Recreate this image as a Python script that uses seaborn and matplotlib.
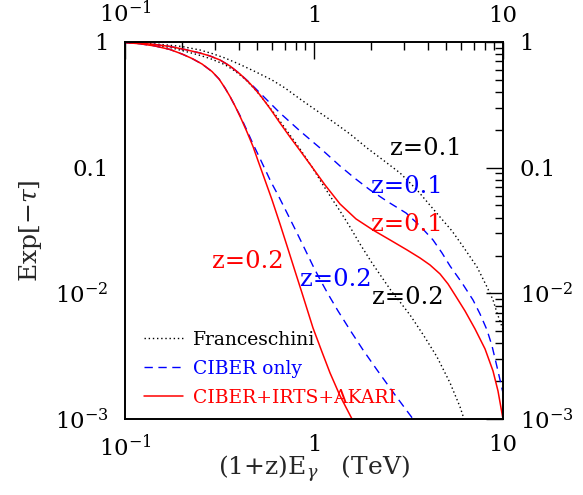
import matplotlib
matplotlib.use("Agg")
import matplotlib.pyplot as plt
import seaborn as sns
import pandas as pd
from matplotlib.ticker import FixedLocator, FixedFormatter, LogLocator, NullFormatter

# ---------------- data ----------------
# Franceschini, z=0.1
fr01_x = [0.1, 0.1356, 0.1627, 0.2002, 0.2493, 0.2886, 0.3381, 0.4060, 0.4873, 0.5995, 0.7023, 0.8432, 1.0123,
          1.2605, 1.550, 1.907, 2.318, 2.851, 3.507, 4.011, 4.642, 5.372, 6.145, 7.285, 8.229, 8.855, 9.296, 9.641, 10.0]
fr01_y = [0.9909, 0.9730, 0.9500, 0.9209, 0.8637, 0.8100, 0.7458, 0.6622, 0.5823, 0.4984, 0.4305, 0.3520, 0.2904,
          0.2322, 0.1854, 0.1435, 0.1151, 0.0908, 0.0665, 0.0524, 0.0405, 0.03136, 0.02360, 0.01622, 0.01124, 0.00886,
          0.00698, 0.00603, 0.00512]
# Franceschini, z=0.2
fr02_x = [0.1, 0.1356, 0.1730, 0.2077, 0.2433, 0.2817, 0.3381, 0.3820, 0.4313, 0.4933, 0.5641, 0.6370, 0.720,
          0.8432, 0.9759, 1.116, 1.245, 1.373, 1.550, 1.751, 2.027, 2.376, 2.586, 2.851, 3.221, 3.819, 4.475, 5.244,
          5.923, 6.219]
fr02_y = [0.9909, 0.9553, 0.9044, 0.8434, 0.7911, 0.7393, 0.6598, 0.5878, 0.5079, 0.4113, 0.3212, 0.2531, 0.1959,
          0.1408, 0.1013, 0.0729, 0.0564, 0.0452, 0.03375, 0.02472, 0.01745, 0.01232, 0.01026, 0.00854, 0.00673,
          0.00458, 0.00312, 0.00194, 0.00125, 0.001]
# CIBER only, z=0.1
cb01_x = [0.1, 0.1201, 0.1441, 0.1730, 0.2077, 0.2493, 0.2817, 0.3182, 0.3594, 0.4060, 0.4585, 0.5179, 0.5850,
          0.6608, 0.7464, 0.8432, 0.9524, 1.0758, 1.2150, 1.373, 1.648, 1.979, 2.464, 3.068, 3.638, 4.262, 4.755,
          5.244, 6.069, 6.938, 7.556, 8.229, 8.746, 9.296, 9.641, 10.0]
cb01_y = [0.9909, 0.9783, 0.9553, 0.9209, 0.8716, 0.8176, 0.7738, 0.7192, 0.6442, 0.5564, 0.4719, 0.3928, 0.3271,
          0.2723, 0.2310, 0.1959, 0.1676, 0.1435, 0.1217, 0.1031, 0.0821, 0.0665, 0.0534, 0.0436, 0.0344, 0.0266,
          0.02097, 0.01652, 0.01210, 0.00886, 0.00686, 0.00511, 0.00382, 0.00260, 0.00205, 0.00161]
# CIBER only, z=0.2
cb02_x = [0.1, 0.1201, 0.1441, 0.1730, 0.2002, 0.2262, 0.2555, 0.2886, 0.3144, 0.3381, 0.3594, 0.3820, 0.4110,
          0.442, 0.4756, 0.5117, 0.550, 0.5923, 0.645, 0.720, 0.813, 0.8964, 0.988, 1.0758, 1.186, 1.340, 1.550,
          1.816, 2.154, 2.683, 3.341]
cb02_y = [0.9909, 0.9676, 0.9294, 0.8716, 0.8025, 0.7393, 0.6683, 0.5823, 0.5079, 0.4305, 0.3685, 0.3097, 0.2508,
          0.1976, 0.1543, 0.1228, 0.0976, 0.0769, 0.0606, 0.0436, 0.0302, 0.02235, 0.01652, 0.01290, 0.00989,
          0.00724, 0.00511, 0.00355, 0.00246, 0.001555, 0.001]
# CIBER+IRTS+AKARI, z=0.1
ci01_x = [0.1, 0.1201, 0.1441, 0.1730, 0.2077, 0.2493, 0.2817, 0.3182, 0.3594, 0.4060, 0.4585, 0.5179, 0.5850,
          0.6608, 0.7464, 0.8432, 0.9759, 1.1433, 1.373, 1.668, 2.052, 2.525, 3.105, 3.638, 4.109, 4.642, 5.117,
          5.572, 6.295, 7.110, 8.035, 8.855, 9.409, 10.0]
ci01_y = [0.9909, 0.9783, 0.9553, 0.9209, 0.8716, 0.8176, 0.7738, 0.7192, 0.6442, 0.5564, 0.4676, 0.3789, 0.2958,
          0.2268, 0.1754, 0.1370, 0.1013, 0.0729, 0.0514, 0.0391, 0.0319, 0.0266, 0.02215, 0.01912, 0.01682, 0.01427,
          0.01188, 0.00971, 0.00724, 0.00521, 0.00361, 0.00241, 0.00167, 0.001]
# CIBER+IRTS+AKARI, z=0.2
ci02_x = [0.1, 0.1201, 0.1441, 0.1730, 0.2002, 0.2262, 0.2555, 0.2886, 0.3144, 0.3381, 0.3594, 0.3820, 0.4110,
          0.442, 0.4756, 0.505, 0.550, 0.600, 0.661, 0.720, 0.793, 0.864, 0.988, 1.102, 1.215, 1.373, 1.589]
ci02_y = [0.9909, 0.9676, 0.9294, 0.8716, 0.8025, 0.7393, 0.6683, 0.5823, 0.5079, 0.4305, 0.3685, 0.3097, 0.2462,
          0.1923, 0.1475, 0.1141, 0.0798, 0.0553, 0.0356, 0.02383, 0.01507, 0.01007, 0.0053, 0.00342, 0.00233,
          0.00153, 0.001]

legend_labels = ["Franceschini", "CIBER only", "CIBER+IRTS+AKARI"]
x_ticks = [0.1, 1, 10]
x_ticklabels = ["$10^{-1}$", "1", "10"]
y_ticks = [1e-3, 1e-2, 0.1, 1]
y_ticklabels = ["$10^{-3}$", "$10^{-2}$", "0.1", "1"]

# ---------------- style ----------------
sns.set_style("white")
plt.rcParams["font.family"] = ["DejaVu Serif", "DejaVu Sans"]
plt.rcParams["mathtext.fontset"] = "dejavuserif"

fig = plt.figure(figsize=(5.83, 4.95), dpi=100)
ax = fig.add_axes([125 / 583, 1 - 419 / 495, 378 / 583, 377 / 495])

DOT = (0, (1, 2))
DASH = (0, (6, 4))

def draw(xs, ys, color, ls, lw, label=None):
    df = pd.DataFrame({"x": xs, "y": ys})
    sns.lineplot(data=df, x="x", y="y", ax=ax, color=color, linestyle=ls,
                 linewidth=lw, sort=False, estimator=None, label=label, legend=False)

draw(fr01_x, fr01_y, "black", DOT, 1.0, legend_labels[0])
draw(fr02_x, fr02_y, "black", DOT, 1.0)
draw(cb01_x, cb01_y, "#0000ff", DASH, 1.0, legend_labels[1])
draw(cb02_x, cb02_y, "#0000ff", DASH, 1.0)
draw(ci01_x, ci01_y, "#ff0000", "-", 1.1, legend_labels[2])
draw(ci02_x, ci02_y, "#ff0000", "-", 1.1)

ax.set_xscale("log")
ax.set_yscale("log")
ax.set_xlim(0.1, 10)
ax.set_ylim(1e-3, 1)

ax.xaxis.set_major_locator(FixedLocator(x_ticks))
ax.xaxis.set_major_formatter(FixedFormatter(x_ticklabels))
ax.yaxis.set_major_locator(FixedLocator(y_ticks))
ax.yaxis.set_major_formatter(FixedFormatter(y_ticklabels))
ax.xaxis.set_minor_locator(LogLocator(base=10, subs=range(2, 10), numticks=20))
ax.yaxis.set_minor_locator(LogLocator(base=10, subs=range(2, 10), numticks=20))
ax.xaxis.set_minor_formatter(NullFormatter())
ax.yaxis.set_minor_formatter(NullFormatter())

for s in ax.spines.values():
    s.set_visible(True)
    s.set_color("black")
    s.set_linewidth(1.4)

ax.tick_params(which="both", direction="in", top=True, right=True,
               labeltop=True, labelright=True, colors="black")
ax.tick_params(which="major", length=12.5, width=1.0, labelsize=16.5)
ax.tick_params(which="minor", length=5.5, width=1.0)
ax.tick_params(axis="y", which="major", pad=12)
ax.tick_params(axis="x", which="major", pad=11)

ax.set_xlabel(r"(1+z)E$_\gamma$   (TeV)", fontsize=18)
ax.set_ylabel(r"Exp[$-\tau$]", fontsize=18)
ax.xaxis.set_label_coords(0.5, -0.093)
ax.yaxis.set_label_coords(-0.215, 0.5)

# curve labels
lab_kw = dict(ha="center", va="center", fontsize=17.5)
ax.text(3.91, 0.141, "z=0.1", color="black", **lab_kw)
ax.text(3.10, 0.0702, "z=0.1", color="#0000ff", **lab_kw)
ax.text(3.10, 0.0356, "z=0.1", color="#ff0000", **lab_kw)
ax.text(0.448, 0.0178, "z=0.2", color="#ff0000", **lab_kw)
ax.text(1.31, 0.0128, "z=0.2", color="#0000ff", **lab_kw)
ax.text(3.14, 0.00919, "z=0.2", color="black", **lab_kw)

leg = ax.legend(loc="upper left", bbox_to_anchor=(0.05, 0.234), frameon=False,
                fontsize=13.5, handlelength=2.1, handletextpad=0.5,
                labelspacing=0.58, borderpad=0, borderaxespad=0,
                labelcolor="linecolor")

fig.savefig("out.png", dpi=100)
